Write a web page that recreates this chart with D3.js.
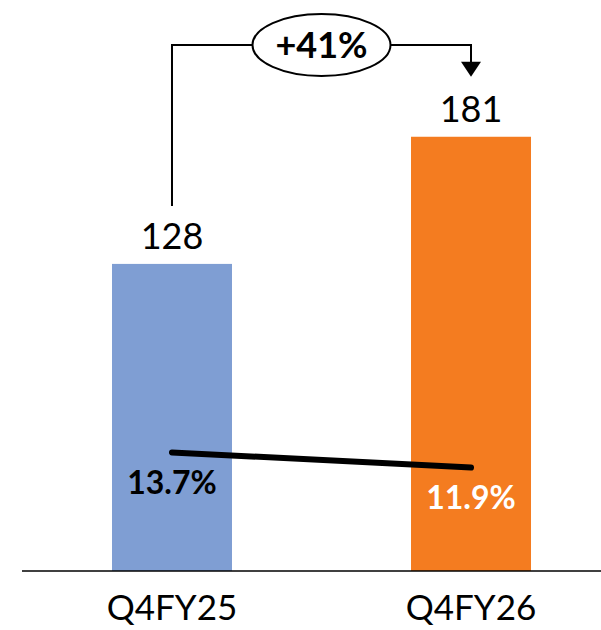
<!DOCTYPE html>
<html>
<head>
<meta charset="utf-8">
<script src="https://cdn.jsdelivr.net/npm/d3@7"></script>
<style>
  html, body { margin: 0; padding: 0; background: #fff; }
  svg { display: block; font-family: Lato, "Open Sans", sans-serif; }
</style>
</head>
<body>
<svg id="chart" width="601" height="630"></svg>
<script>
// data
const categories = ["Q4FY25", "Q4FY26"];
const revenue = [128, 181];
const margin = [13.7, 11.9];
const marginLabels = ["13.7%", "11.9%"];
const growthLabel = "+41%";
const barColors = ["#7F9ED3", "#F47C20"];
const marginLabelColors = ["#000000", "#ffffff"];

(function () {
  const svg = d3.select('#chart');
  const baseY = 571;

  const x = d3.scaleBand().domain(categories).range([22.5, 620.5])
    .paddingInner(0.5987).paddingOuter(0.2993);
  const y = d3.scaleLinear().domain([0, 238]).range([baseY, 0]);
  const y2 = d3.scaleLinear().domain([0, 67.8]).range([567, 0]);
  const cx = c => x(c) + x.bandwidth() / 2;

  // bars
  svg.append('g').selectAll('rect').data(categories).join('rect')
    .attr('x', d => x(d))
    .attr('y', (d, i) => y(revenue[i]))
    .attr('width', x.bandwidth())
    .attr('height', (d, i) => baseY - y(revenue[i]))
    .attr('fill', (d, i) => barColors[i]);

  // baseline axis
  svg.append('line').attr('x1', 22).attr('x2', 601).attr('y1', baseY).attr('y2', baseY)
    .attr('stroke', '#000').attr('stroke-width', 1.5);

  // category labels
  svg.append('g').selectAll('text').data(categories).join('text')
    .attr('x', d => cx(d)).attr('y', 620)
    .attr('text-anchor', 'middle').attr('font-size', 35).attr('fill', '#000')
    .text(d => d);

  // value labels
  svg.append('g').selectAll('text').data(categories).join('text')
    .attr('x', d => cx(d)).attr('y', (d, i) => y(revenue[i]) - 15)
    .attr('text-anchor', 'middle').attr('font-size', 36).attr('fill', '#000')
    .text((d, i) => revenue[i]);

  // margin line
  const line = d3.line().x(d => cx(d)).y((d, i) => y2(margin[i]));
  svg.append('path').datum(categories).attr('d', line)
    .attr('fill', 'none').attr('stroke', '#000').attr('stroke-width', 6)
    .attr('stroke-linecap', 'round');

  svg.append('g').selectAll('text').data(categories).join('text')
    .attr('x', d => cx(d)).attr('y', (d, i) => y2(margin[i]) + 42)
    .attr('text-anchor', 'middle').attr('font-size', 32).attr('font-weight', 'bold')
    .attr('fill', (d, i) => marginLabelColors[i])
    .text((d, i) => marginLabels[i]);

  // growth bracket
  const topY = 45;
  const x0 = cx(categories[0]), x1 = cx(categories[1]);
  const startY = y(revenue[0]) - 58;
  const tipY = y(revenue[1]) - 60;
  svg.append('path')
    .attr('d', `M${x0},${startY} V${topY} H${x1} V${tipY - 14}`)
    .attr('fill', 'none').attr('stroke', '#000').attr('stroke-width', 2);
  svg.append('path')
    .attr('d', `M${x1 - 10},${tipY - 15} L${x1 + 10},${tipY - 15} L${x1},${tipY} Z`)
    .attr('fill', '#000');

  const mx = (x0 + x1) / 2;
  svg.append('ellipse').attr('cx', mx).attr('cy', topY).attr('rx', 69).attr('ry', 31)
    .attr('fill', '#fff').attr('stroke', '#000').attr('stroke-width', 2);
  svg.append('text').attr('x', mx).attr('y', topY + 13)
    .attr('text-anchor', 'middle').attr('font-size', 36).attr('font-weight', 'bold')
    .text(growthLabel);
})();
</script>
</body>
</html>
